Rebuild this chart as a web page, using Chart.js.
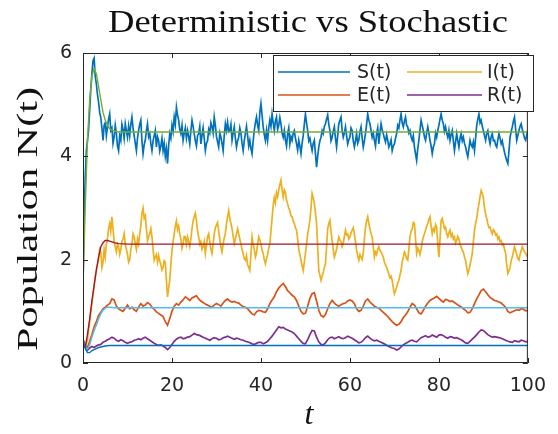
<!DOCTYPE html>
<html>
<head>
<meta charset="utf-8">
<script src="https://cdn.jsdelivr.net/npm/chart.js@4.4.1/dist/chart.umd.min.js"></script>
<style>
  html, body { margin: 0; padding: 0; background: #fff; }
</style>
</head>
<body>
<canvas id="c" width="558" height="434"></canvas>
<script>
// stochastic runs: S and I stored every 0.25 time units, E and R every 0.5
const dtFine = 0.25;
const dtHalf = 0.5;

const sStoch = [
  1.5, 2.8, 3.6, 4.1, 4.3, 4.5, 4.9, 5.3, 5.6, 5.85, 5.9, 5.55, 5.4, 5.2, 5.05, 4.85, 4.75, 4.55, 4.31, 4.6,
  4.65, 4.40, 4.57, 4.72, 4.82, 4.50, 4.55, 4.25, 4.37, 4.60, 4.45, 4.20, 4.11, 4.40, 4.31, 4.62, 4.52, 4.35, 4.63, 4.50,
  4.37, 4.58, 4.40, 4.62, 4.76, 4.55, 4.40, 4.25, 4.11, 4.35, 4.50, 4.62, 4.70, 4.30, 4.05, 4.22, 4.31, 4.50, 4.63, 4.38,
  4.44, 4.25, 4.11, 4.30, 4.40, 4.50, 4.18, 4.38, 4.31, 4.10, 4.20, 4.35, 4.11, 4.25, 4.00, 4.15, 3.86, 4.20, 4.44, 4.35,
  4.60, 4.48, 4.76, 4.62, 4.95, 4.80, 4.70, 4.52, 4.44, 4.60, 4.31, 4.45, 4.55, 4.35, 4.50, 4.38, 4.24, 4.50, 4.70, 4.58,
  4.44, 4.30, 4.20, 4.40, 4.44, 4.58, 4.24, 4.40, 4.55, 4.35, 4.11, 4.25, 4.30, 4.52, 4.45, 4.65, 4.57, 4.45, 4.76, 4.60,
  4.38, 4.28, 4.18, 4.45, 4.37, 4.25, 4.11, 4.40, 4.63, 4.50, 4.66, 4.48, 4.50, 4.62, 4.31, 4.45, 4.57, 4.35, 4.18, 4.30,
  4.37, 4.55, 4.45, 4.25, 4.11, 4.30, 4.44, 4.58, 4.40, 4.20, 4.31, 4.15, 4.05, 4.30, 4.50, 4.65, 4.76, 4.60, 4.50, 4.85,
  5.02, 4.80, 4.57, 4.42, 4.31, 4.50, 4.31, 4.55, 4.70, 4.58, 4.82, 4.65, 4.50, 4.68, 4.76, 4.52, 4.60, 4.75, 4.63, 4.45,
  4.37, 4.50, 4.31, 4.20, 4.44, 4.55, 4.24, 4.38, 4.31, 4.45, 4.50, 4.35, 4.24, 4.12, 4.31, 4.20, 4.05, 4.25, 4.40, 4.62,
  4.82, 4.65, 4.50, 4.30, 4.35, 4.22, 4.11, 4.25, 4.31, 4.05, 3.79, 4.00, 4.18, 4.30, 4.37, 4.50, 4.44, 4.58, 4.63, 4.72,
  4.80, 4.62, 4.50, 4.30, 4.37, 4.48, 4.57, 4.35, 4.18, 4.40, 4.63, 4.70, 4.76, 4.50, 4.37, 4.45, 4.57, 4.40, 4.24, 4.32,
  4.37, 4.55, 4.50, 4.30, 4.18, 4.30, 4.44, 4.25, 4.31, 4.48, 4.57, 4.35, 4.18, 4.30, 4.44, 4.62, 4.82, 4.70, 4.63, 4.50,
  4.37, 4.45, 4.31, 4.20, 4.44, 4.55, 4.24, 4.45, 4.63, 4.52, 4.44, 4.35, 4.28, 4.42, 4.31, 4.18, 4.24, 4.32, 4.11, 4.20,
  4.24, 4.35, 4.44, 4.60, 4.55, 4.70, 4.82, 4.65, 4.57, 4.68, 4.76, 4.60, 4.57, 4.45, 4.50, 4.38, 4.31, 4.40, 4.18, 4.05,
  3.92, 4.15, 4.31, 4.52, 4.70, 4.60, 4.50, 4.38, 4.31, 4.45, 4.57, 4.45, 4.31, 4.20, 4.05, 4.18, 4.24, 4.45, 4.37, 4.50,
  4.60, 4.72, 4.82, 4.70, 4.63, 4.48, 4.57, 4.45, 4.37, 4.50, 4.31, 4.42, 4.50, 4.30, 4.11, 4.28, 4.44, 4.30, 4.18, 4.35,
  4.44, 4.30, 4.37, 4.25, 4.18, 4.08, 3.99, 4.15, 4.31, 4.22, 4.18, 4.28, 4.11, 4.35, 4.60, 4.72, 4.82, 4.65, 4.70, 4.58,
  4.50, 4.40, 4.31, 4.45, 4.50, 4.35, 4.24, 4.38, 4.44, 4.30, 4.31, 4.22, 4.18, 4.32, 4.44, 4.35, 4.24, 4.30, 4.18, 4.08,
  3.99, 3.92, 3.86, 4.10, 4.37, 4.48, 4.57, 4.68, 4.76, 4.52, 4.31, 4.40, 4.50, 4.58, 4.63, 4.52, 4.44, 4.35, 4.31, 4.42,
  4.50
];

const iStoch = [
  0.35, 0.32, 0.30, 0.36, 0.45, 0.62, 0.80, 0.98, 1.15, 1.32, 1.50, 1.66, 1.80, 1.90, 2.00, 2.20, 2.15, 1.85, 1.95, 2.20,
  2.05, 2.30, 2.40, 2.60, 2.70, 2.55, 2.83, 2.60, 2.35, 2.25, 2.15, 2.30, 2.25, 2.10, 2.20, 2.35, 2.40, 2.50, 2.30, 2.20,
  2.10, 1.95, 2.00, 2.20, 2.30, 2.50, 2.44, 2.30, 2.20, 2.40, 2.30, 2.50, 2.65, 2.90, 3.00, 2.80, 2.85, 2.60, 2.37, 2.45,
  2.50, 2.60, 2.45, 2.20, 1.99, 2.05, 2.10, 1.95, 2.08, 1.98, 1.90, 1.80, 1.85, 1.98, 1.95, 1.60, 1.28, 1.45, 1.60, 1.90,
  2.18, 2.35, 2.50, 2.65, 2.75, 2.58, 2.65, 2.50, 2.40, 2.22, 2.31, 2.45, 2.44, 2.30, 2.44, 2.35, 2.25, 2.40, 2.60, 2.75,
  2.83, 2.90, 2.75, 2.55, 2.44, 2.30, 2.35, 2.20, 2.25, 2.35, 2.12, 2.28, 2.44, 2.50, 2.35, 2.20, 2.12, 2.30, 2.50, 2.62,
  2.67, 2.72, 2.55, 2.40, 2.25, 2.15, 2.30, 2.42, 2.50, 2.70, 2.83, 2.95, 2.80, 2.70, 2.60, 2.45, 2.31, 2.40, 2.50, 2.60,
  2.50, 2.40, 2.30, 2.20, 2.12, 2.02, 1.99, 2.08, 1.90, 1.85, 1.79, 2.10, 2.44, 2.30, 2.20, 2.05, 2.12, 2.30, 2.44, 2.38,
  2.30, 2.18, 2.12, 2.00, 1.92, 2.02, 2.10, 2.22, 2.31, 2.55, 2.80, 3.05, 3.20, 3.10, 3.30, 3.22, 3.35, 3.45, 3.54, 3.35,
  3.21, 3.35, 3.30, 3.15, 3.08, 3.00, 2.95, 2.85, 2.83, 2.75, 2.70, 2.62, 2.57, 2.40, 2.20, 2.10, 1.99, 1.88, 1.79, 1.95,
  2.12, 2.30, 2.50, 2.62, 2.76, 3.00, 3.28, 3.20, 3.10, 2.90, 2.70, 2.25, 1.79, 1.70, 1.60, 1.68, 1.75, 1.85, 1.92, 2.25,
  2.60, 2.70, 2.76, 2.55, 2.37, 2.20, 2.05, 2.12, 2.20, 2.32, 2.44, 2.38, 2.35, 2.25, 2.31, 2.45, 2.57, 2.48, 2.50, 2.40,
  2.44, 2.52, 2.57, 2.62, 2.50, 2.35, 2.18, 2.08, 1.99, 2.10, 2.05, 2.00, 2.12, 2.40, 2.63, 2.75, 2.83, 2.70, 2.60, 2.50,
  2.44, 2.25, 2.05, 2.15, 2.10, 2.20, 2.25, 2.18, 2.15, 2.10, 2.05, 1.95, 1.90, 1.85, 1.79, 1.72, 1.65, 1.68, 1.60, 1.45,
  1.34, 1.40, 1.47, 1.55, 1.60, 1.70, 1.79, 1.95, 2.05, 2.15, 2.10, 2.02, 1.99, 2.20, 2.44, 2.55, 2.60, 2.72, 2.70, 2.40,
  2.12, 2.22, 2.18, 2.10, 2.20, 2.35, 2.44, 2.50, 2.57, 2.65, 2.70, 2.78, 2.83, 2.65, 2.50, 2.60, 2.55, 2.68, 2.63, 2.30,
  2.05, 2.40, 2.76, 2.80, 2.70, 2.60, 2.63, 2.50, 2.44, 2.52, 2.57, 2.45, 2.50, 2.40, 2.44, 2.32, 2.37, 2.45, 2.40, 2.30,
  2.25, 2.18, 2.15, 2.05, 1.99, 1.85, 1.73, 1.80, 1.90, 2.00, 2.12, 2.35, 2.57, 2.70, 2.80, 2.95, 3.08, 3.22, 3.34, 3.28,
  3.20, 3.00, 2.89, 2.80, 2.70, 2.62, 2.63, 2.55, 2.50, 2.58, 2.55, 2.48, 2.50, 2.40, 2.44, 2.35, 2.37, 2.28, 2.30, 2.20,
  2.12, 1.90, 1.73, 1.78, 1.85, 1.98, 2.05, 2.15, 2.25, 2.18, 2.10, 2.02, 1.99, 2.10, 2.18, 2.25, 2.20, 2.15, 2.12, 2.08,
  2.05
];

const eStoch = [
  0.45, 0.36, 0.30, 0.42, 0.55, 0.70, 0.80, 0.92, 0.98, 1.05, 1.08, 1.12, 1.15, 1.24, 1.22, 1.10, 1.05, 1.02, 1.00, 1.06,
  1.12, 1.05, 1.08, 1.03, 1.00, 1.08, 1.15, 1.10, 1.12, 1.17, 1.14, 1.08, 1.04, 0.99, 0.96, 0.93, 0.90, 0.80, 0.73, 0.86,
  1.00, 1.10, 1.15, 1.12, 1.18, 1.22, 1.28, 1.25, 1.21, 1.26, 1.28, 1.30, 1.24, 1.20, 1.17, 1.14, 1.12, 1.10, 1.08, 1.12,
  1.15, 1.13, 1.10, 1.16, 1.21, 1.24, 1.20, 1.18, 1.19, 1.17, 1.16, 1.12, 1.09, 1.08, 1.05, 1.00, 0.95, 0.93, 0.99, 1.02,
  1.01, 0.99, 0.98, 1.05, 1.15, 1.22, 1.28, 1.38, 1.45, 1.50, 1.54, 1.48, 1.40, 1.36, 1.31, 1.28, 1.21, 1.10, 1.00, 0.95,
  0.96, 1.10, 1.25, 1.34, 1.36, 1.20, 1.02, 0.92, 0.89, 0.94, 1.05, 1.15, 1.21, 1.16, 1.12, 1.10, 1.13, 1.15, 1.16, 1.20,
  1.22, 1.20, 1.15, 1.05, 1.00, 1.02, 1.10, 1.20, 1.24, 1.18, 1.14, 1.10, 1.08, 1.06, 1.02, 0.98, 0.94, 0.90, 0.85, 0.80,
  0.76, 0.73, 0.75, 0.80, 0.88, 0.93, 0.99, 1.08, 1.15, 1.12, 1.05, 0.97, 0.95, 1.02, 1.10, 1.16, 1.21, 1.24, 1.26, 1.29,
  1.25, 1.21, 1.18, 1.23, 1.22, 1.19, 1.20, 1.17, 1.14, 1.11, 1.09, 1.05, 1.02, 0.97, 0.98, 1.05, 1.15, 1.24, 1.32, 1.40,
  1.43, 1.38, 1.32, 1.27, 1.24, 1.21, 1.20, 1.18, 1.16, 1.12, 1.08, 1.00, 0.97, 0.99, 1.01, 1.03, 1.02, 1.05, 1.04, 1.01,
  1.02
];

const rStoch = [
  0.45, 0.32, 0.25, 0.29, 0.32, 0.30, 0.33, 0.35, 0.36, 0.40, 0.42, 0.45, 0.47, 0.50, 0.48, 0.44, 0.42, 0.45, 0.43, 0.40,
  0.38, 0.40, 0.41, 0.44, 0.45, 0.47, 0.45, 0.48, 0.50, 0.47, 0.44, 0.41, 0.38, 0.36, 0.34, 0.35, 0.33, 0.30, 0.26, 0.30,
  0.36, 0.42, 0.46, 0.49, 0.50, 0.47, 0.48, 0.50, 0.51, 0.54, 0.57, 0.55, 0.54, 0.52, 0.50, 0.48, 0.46, 0.44, 0.47, 0.49,
  0.48, 0.45, 0.46, 0.49, 0.50, 0.52, 0.50, 0.48, 0.46, 0.48, 0.47, 0.45, 0.44, 0.42, 0.41, 0.39, 0.37, 0.36, 0.38, 0.40,
  0.40, 0.37, 0.39, 0.42, 0.47, 0.52, 0.58, 0.64, 0.70, 0.68, 0.69, 0.66, 0.64, 0.62, 0.60, 0.57, 0.52, 0.47, 0.42, 0.38,
  0.37, 0.45, 0.55, 0.63, 0.62, 0.50, 0.41, 0.36, 0.35, 0.39, 0.45, 0.49, 0.50, 0.47, 0.49, 0.51, 0.48, 0.47, 0.49, 0.52,
  0.50, 0.48, 0.45, 0.42, 0.39, 0.40, 0.44, 0.49, 0.52, 0.48, 0.45, 0.43, 0.44, 0.42, 0.40, 0.38, 0.36, 0.33, 0.31, 0.29,
  0.28, 0.25, 0.27, 0.31, 0.35, 0.38, 0.40, 0.43, 0.44, 0.42, 0.41, 0.45, 0.49, 0.51, 0.53, 0.50, 0.51, 0.54, 0.52, 0.50,
  0.54, 0.55, 0.53, 0.50, 0.48, 0.51, 0.50, 0.48, 0.49, 0.47, 0.45, 0.42, 0.39, 0.38, 0.42, 0.46, 0.50, 0.55, 0.60, 0.64,
  0.63, 0.59, 0.55, 0.52, 0.50, 0.51, 0.50, 0.49, 0.48, 0.46, 0.44, 0.42, 0.41, 0.40, 0.43, 0.42, 0.41, 0.44, 0.43, 0.41,
  0.42
];

// deterministic solution, sampled densely during the initial transient
const tDet = [0, 0.5, 1, 1.5, 2, 2.5, 3, 3.5, 4, 4.5, 5, 5.5, 6, 7, 8, 10, 20, 40, 60, 80, 100];
const sDet = [1.5, 3.0, 4.3, 5.1, 5.55, 5.7, 5.6, 5.35, 5.1, 4.85, 4.7, 4.6, 4.53, 4.49, 4.47, 4.47, 4.47, 4.47, 4.47, 4.47, 4.47];
const eDet = [0.45, 0.30, 0.27, 0.35, 0.50, 0.63, 0.73, 0.85, 0.95, 1.02, 1.06, 1.08, 1.08, 1.07, 1.07, 1.07, 1.07, 1.07, 1.07, 1.07, 1.07];
const iDet = [0.35, 0.30, 0.55, 0.85, 1.20, 1.50, 1.80, 2.05, 2.25, 2.33, 2.37, 2.37, 2.36, 2.33, 2.31, 2.30, 2.30, 2.30, 2.30, 2.30, 2.30];
const rDet = [0.45, 0.28, 0.20, 0.20, 0.24, 0.26, 0.28, 0.30, 0.31, 0.32, 0.33, 0.335, 0.34, 0.34, 0.34, 0.34, 0.34, 0.34, 0.34, 0.34, 0.34];

const xTicks = [0, 20, 40, 60, 80, 100];
const yTicks = [0, 2, 4, 6];
const legendNames = ['S(t)', 'E(t)', 'I(t)', 'R(t)'];

// matlab default colour order
const C = ['#0072BD', '#D95319', '#EDB120', '#7E2F8E', '#77AC30', '#4DBEEE', '#A2142F'];
const AXIS = '#262626';

const toPts = (arr, dt) => arr.map((v, i) => ({ x: i * dt, y: v }));
const detPts = arr => arr.map((v, i) => ({ x: tDet[i], y: v }));

function line(data, color, order, w) {
  return { data, borderColor: color, borderWidth: w, pointRadius: 0, tension: 0, fill: false, order };
}

const datasets = [
  line(toPts(sStoch, dtFine), C[0], 8, 1.7),
  line(toPts(eStoch, dtHalf), C[1], 7, 1.7),
  line(toPts(iStoch, dtFine), C[2], 6, 1.7),
  line(toPts(rStoch, dtHalf), C[3], 5, 1.7),
  line(detPts(sDet), C[4], 4, 1.4),
  line(detPts(eDet), C[5], 3, 1.4),
  line(detPts(iDet), C[6], 2, 1.4),
  line(detPts(rDet), C[0], 1, 1.4)
];

const decor = {
  id: 'decor',
  afterDraw(chart) {
    const ctx = chart.ctx;
    const a = chart.chartArea;
    const xs = chart.scales.x, ys = chart.scales.y;
    ctx.save();

    // axes box with inward ticks on all sides
    ctx.strokeStyle = AXIS;
    ctx.lineWidth = 1;
    ctx.strokeRect(a.left + 0.5, a.top + 0.5, a.right - a.left - 1, a.bottom - a.top - 1);
    ctx.beginPath();
    xTicks.forEach(t => {
      const px = Math.round(xs.getPixelForValue(t)) + 0.5;
      ctx.moveTo(px, a.bottom); ctx.lineTo(px, a.bottom - 5);
      ctx.moveTo(px, a.top); ctx.lineTo(px, a.top + 5);
    });
    yTicks.forEach(t => {
      const py = Math.round(ys.getPixelForValue(t)) + 0.5;
      ctx.moveTo(a.left, py); ctx.lineTo(a.left + 5, py);
      ctx.moveTo(a.right, py); ctx.lineTo(a.right - 5, py);
    });
    ctx.stroke();

    // legend, two columns
    const lx = 273, ly = 55, lw = 260, lh = 56;
    ctx.fillStyle = '#fff';
    ctx.fillRect(lx, ly, lw, lh);
    ctx.strokeStyle = AXIS;
    ctx.strokeRect(lx + 0.5, ly + 0.5, lw, lh);
    const cols = [{ x0: 278, x1: 350, tx: 357 }, { x0: 407, x1: 482, tx: 487 }];
    const rows = [72, 95];
    const slots = [[0, 0], [1, 0], [0, 1], [1, 1]]; // S, E, I, R -> [row, col]
    ctx.font = '19px "DejaVu Sans"';
    ctx.textBaseline = 'middle';
    ctx.textAlign = 'left';
    legendNames.forEach((name, k) => {
      const [r, c] = slots[k];
      ctx.strokeStyle = C[k];
      ctx.lineWidth = 1.3;
      ctx.beginPath();
      ctx.moveTo(cols[c].x0, rows[r]); ctx.lineTo(cols[c].x1, rows[r]);
      ctx.stroke();
      ctx.fillStyle = AXIS;
      ctx.fillText(name, cols[c].tx, rows[r] + 1);
    });

    // title and axis labels
    ctx.fillStyle = '#111';
    ctx.textAlign = 'center';
    ctx.textBaseline = 'alphabetic';
    ctx.font = '32px "Liberation Serif"';
    const title = 'Deterministic vs Stochastic';
    const tw = ctx.measureText(title).width;
    ctx.save();
    ctx.translate(308, 32);
    ctx.scale(400 / tw, 1);
    ctx.fillText(title, 0, 0);
    ctx.restore();

    ctx.font = 'italic 32px "Liberation Serif"';
    ctx.fillText('t', 309, 424);

    ctx.save();
    ctx.translate(37, 219);
    ctx.rotate(-Math.PI / 2);
    ctx.font = '29px "Liberation Serif"';
    const yl = 'Population N(t)';
    const yw = ctx.measureText(yl).width;
    ctx.scale(264 / yw, 1);
    ctx.fillText(yl, 0, 0);
    ctx.restore();

    ctx.restore();
  }
};

new Chart(document.getElementById('c'), {
  type: 'line',
  data: { datasets },
  options: {
    responsive: false,
    animation: false,
    layout: { padding: { top: 53, right: 22, left: 0, bottom: 0 } },
    plugins: { legend: { display: false }, tooltip: { enabled: false }, title: { display: false } },
    scales: {
      x: {
        type: 'linear', min: 0, max: 100,
        afterFit(s) { s.height = 71; },
        afterBuildTicks(s) { s.ticks = xTicks.map(v => ({ value: v })); },
        grid: { display: false, drawTicks: false },
        border: { display: false },
        ticks: { font: { family: 'DejaVu Sans', size: 19 }, color: AXIS, padding: 12, maxRotation: 0 }
      },
      y: {
        type: 'linear', min: 0, max: 6,
        afterFit(s) { s.width = 83; },
        afterBuildTicks(s) { s.ticks = yTicks.map(v => ({ value: v })); },
        grid: { display: false, drawTicks: false },
        border: { display: false },
        ticks: { font: { family: 'DejaVu Sans', size: 19 }, color: AXIS, padding: 11 }
      }
    }
  },
  plugins: [decor]
});
</script>
</body>
</html>
